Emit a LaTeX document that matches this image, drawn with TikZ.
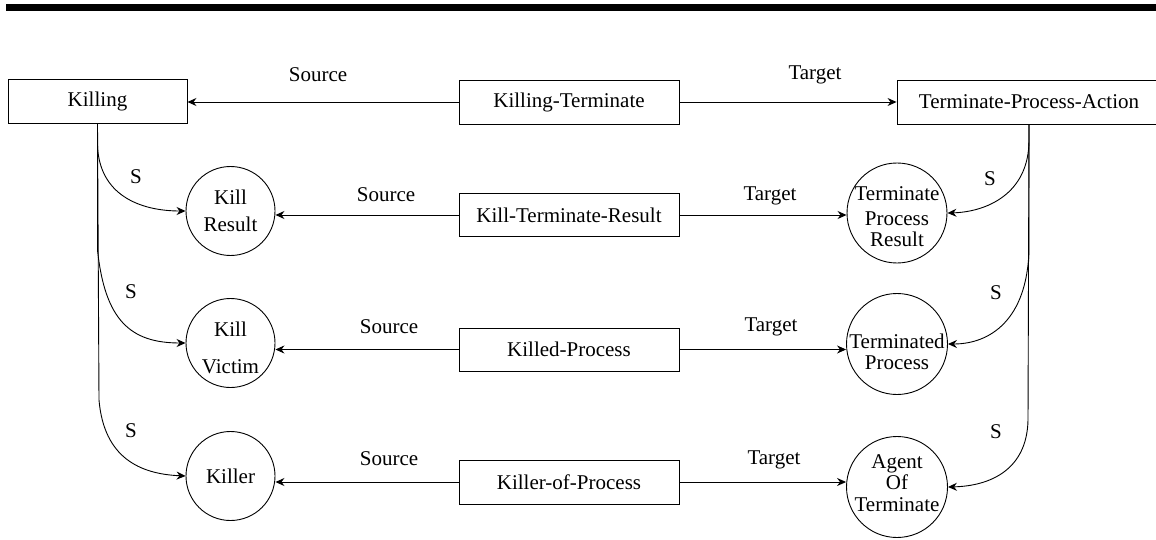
\documentclass[tikz,border=0pt]{standalone}
\usepackage{fontspec}
\setmainfont{Liberation Serif}
\usetikzlibrary{arrows.meta}
\begin{document}
\begin{tikzpicture}[x=1pt,y=-1pt,
  font=\fontsize{21}{24.5}\selectfont,
  line width=0.9pt,
  box/.style={draw, rectangle, minimum height=44pt, inner sep=0pt},
  circ/.style={draw, circle, inner sep=0pt},
  ctext/.style={align=center, inner sep=0pt},
  lbl/.style={inner sep=0pt},
  arr/.style={-{Stealth[length=9pt,width=8pt,inset=3pt]}}]
\useasboundingbox (0,0) rectangle (1156,540);
\fill (6,4) rectangle (1156,11);

% top row
\node[box, minimum width=179pt] (killing) at (97.5,101) {Killing};
\node[box, minimum width=220pt] (kt) at (569,102) {Killing-Terminate};
\node[box, minimum width=264pt] (tpa) at (1029,102) {Terminate-Process-Action};

% middle relation boxes
\node[box, minimum width=220pt, minimum height=43pt] (ktr) at (569,215) {Kill-Terminate-Result};
\node[box, minimum width=220pt, minimum height=43pt] (kp) at (569,349.5) {Killed-Process};
\node[box, minimum width=220pt] (kop) at (569,482) {Killer-of-Process};

% left circles
\node[circ, minimum size=89pt] (kr) at (230.5,211) {};
\node[ctext] (krt) at (230.5,211) {Kill\\[2pt]Result};
\node[circ, minimum size=89pt] (kv) at (230.5,343) {};
\node[ctext] (kvt) at (230.5,348) {Kill\\[12pt]Victim};
\node[circ, minimum size=89pt] (kl) at (230.5,476) {};
\node[ctext] (klt) at (230.5,476) {Killer};

% right circles
\node[circ, minimum size=100pt] (tpr) at (897,213) {};
\node[ctext] (tprt) at (897,217) {Terminate\\Process\\[-3pt]Result};
\node[circ, minimum size=101pt] (tp) at (897,344) {};
\node[ctext] (tpt) at (897,352) {Terminated\\[-3pt]Process};
\node[circ, minimum size=101pt] (aot) at (897,487) {};
\node[ctext] (aott) at (897,483) {Agent\\[-3pt]Of\\[-3pt]Terminate};

% horizontal arrows
\draw[arr] (kt.west) -- (kt.west -| killing.east);
\draw[arr] (kt.east) -- (kt.east -| tpa.west);
\draw[arr] (ktr.west) -- (ktr.west -| kr.east);
\draw[arr] (ktr.east) -- (ktr.east -| tpr.west);
\draw[arr] (kp.west) -- (kp.west -| kv.east);
\draw[arr] (kp.east) -- (kp.east -| tp.west);
\draw[arr] (kop.west) -- (kop.west -| kl.east);
\draw[arr] (kop.east) -- (kop.east -| aot.west);

% labels
\node[lbl] (s0) at (318,75) {Source};
\node[lbl] (t0) at (815,75) {Target};
\node[lbl] (s1) at (386,195) {Source};
\node[lbl] (t1) at (770,196) {Target};
\node[lbl] (s2) at (389,327) {Source};
\node[lbl] (t2) at (771,327) {Target};
\node[lbl] (s3) at (389,459) {Source};
\node[lbl] (t3) at (774,460) {Target};

% S curves left
\draw[arr] (killing.south) -- (97.5,145) .. controls (99,195) and (140,211) .. (kr.west);
\draw[arr] (killing.south) -- (97.5,250) .. controls (105,320) and (130,343) .. (kv.west);
\draw[arr] (killing.south) -- (99,400) .. controls (104,458) and (140,474) .. (kl.west);
\node[lbl] (sl1) at (136,177) {S};
\node[lbl] (sl2) at (131,292) {S};
\node[lbl] (sl3) at (131,431) {S};

% S curves right
\draw[arr] (tpa.south) -- (1029,140) .. controls (1029,195) and (985,212) .. (tpr.east);
\draw[arr] (tpa.south) -- (1029,250) .. controls (1027,320) and (990,344) .. (tp.east);
\draw[arr] (tpa.south) -- (1028,420) .. controls (1027,470) and (990,486) .. (aot.east);
\node[lbl] (sr1) at (990,179) {S};
\node[lbl] (sr2) at (996,293) {S};
\node[lbl] (sr3) at (996,432) {S};
\end{tikzpicture}
\end{document}
